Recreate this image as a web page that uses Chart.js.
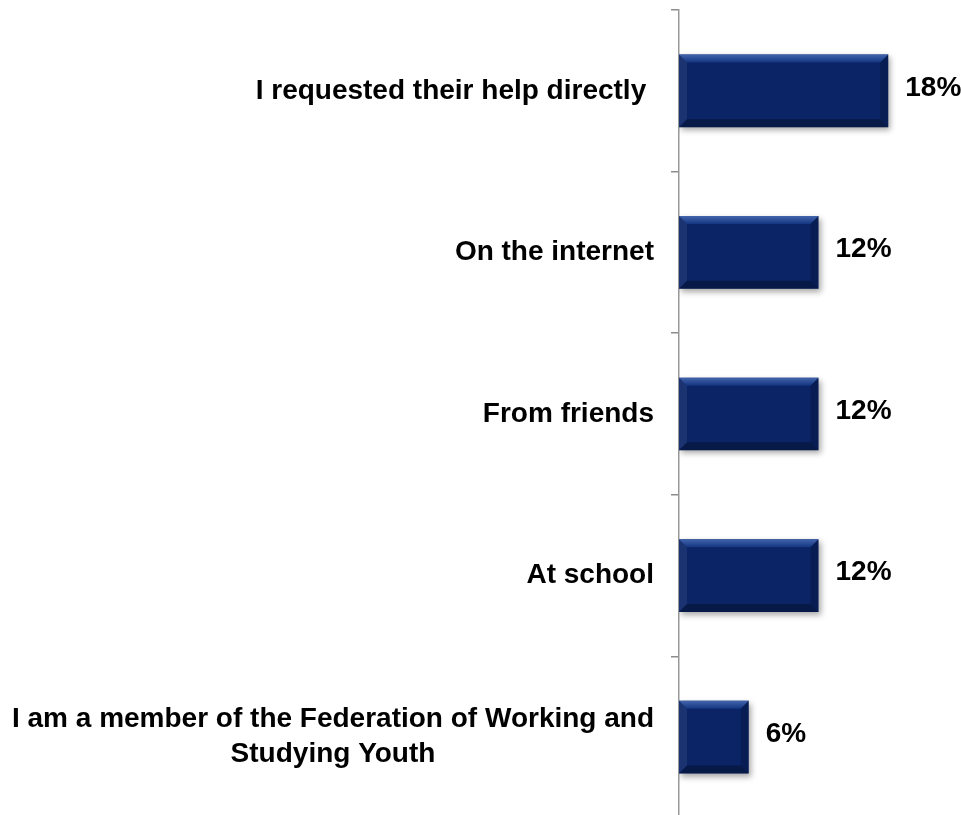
<!DOCTYPE html>
<html>
<head>
<meta charset="utf-8">
<script src="https://cdn.jsdelivr.net/npm/chart.js@4"></script>
<style>
  html, body { margin: 0; padding: 0; background: #fff; overflow: hidden; }
  #wrap { position: relative; width: 961px; height: 818px; }
</style>
</head>
<body>
<div id="wrap"><canvas id="myChart"></canvas></div>
<script>
// données du graphique
const categories = [
    'I requested their help directly ',
    'On the internet',
    'From friends',
    'At school',
    ['I am a member of the Federation of Working and', 'Studying Youth']
];
const values = [18, 12, 12, 12, 6];
const xMax = 24;

const labelFont = 'bold 28px "Liberation Sans", Arial, sans-serif';
const barColor = '#0a2466';

// ombre portée sous les barres + effet biseau
const shadowPlugin = {
    id: 'shadow',
    beforeDatasetsDraw(chart) {
        const ctx = chart.ctx;
        ctx.save();
        ctx.shadowColor = 'rgba(0,0,0,0.35)';
        ctx.shadowBlur = 6;
        ctx.shadowOffsetX = 2;
        ctx.shadowOffsetY = 3;
    },
    afterDatasetsDraw(chart) {
        const ctx = chart.ctx;
        ctx.restore();

        const meta = chart.getDatasetMeta(0);
        meta.data.forEach((bar) => {
            const p = bar.getProps(['x', 'y', 'base', 'height'], true);
            const l = p.base, r = p.x;
            const t = p.y - p.height / 2, bo = p.y + p.height / 2;
            const b = 8;
            ctx.save();
            // haut
            const g = ctx.createLinearGradient(0, t, 0, t + b);
            g.addColorStop(0, '#4265ad');
            g.addColorStop(1, '#143580');
            ctx.fillStyle = g;
            ctx.beginPath();
            ctx.moveTo(l, t); ctx.lineTo(r, t); ctx.lineTo(r - b, t + b); ctx.lineTo(l + b, t + b);
            ctx.closePath(); ctx.fill();
            // gauche
            ctx.fillStyle = 'rgba(255,255,255,0.07)';
            ctx.beginPath();
            ctx.moveTo(l, t); ctx.lineTo(l + b, t + b); ctx.lineTo(l + b, bo - b); ctx.lineTo(l, bo);
            ctx.closePath(); ctx.fill();
            // droite
            ctx.fillStyle = 'rgba(0,0,0,0.18)';
            ctx.beginPath();
            ctx.moveTo(r, t); ctx.lineTo(r - b, t + b); ctx.lineTo(r - b, bo - b); ctx.lineTo(r, bo);
            ctx.closePath(); ctx.fill();
            // bas
            ctx.fillStyle = 'rgba(0,0,0,0.3)';
            ctx.beginPath();
            ctx.moveTo(l, bo); ctx.lineTo(l + b, bo - b); ctx.lineTo(r - b, bo - b); ctx.lineTo(r, bo);
            ctx.closePath(); ctx.fill();
            ctx.restore();
        });
    }
};

// libellés des catégories et des valeurs
const labelsPlugin = {
    id: 'labels',
    afterDraw(chart) {
        const ctx = chart.ctx;
        const yScale = chart.scales.y;
        const rightEdge = 654;
        const lineH = 35;
        ctx.save();
        ctx.font = labelFont;
        ctx.fillStyle = '#000';
        ctx.textBaseline = 'middle';
        ctx.textAlign = 'center';
        categories.forEach((cat, i) => {
            const lines = Array.isArray(cat) ? cat : [cat];
            const maxW = Math.max(...lines.map((s) => ctx.measureText(s).width));
            const cx = rightEdge - maxW / 2;
            const yc = yScale.getPixelForValue(i);
            const y0 = yc - (lines.length - 1) * lineH / 2;
            lines.forEach((s, k) => ctx.fillText(s, cx, y0 + k * lineH));
        });

        ctx.textAlign = 'left';
        const meta = chart.getDatasetMeta(0);
        meta.data.forEach((bar, i) => {
            ctx.fillText(values[i] + '%', bar.x + 17, bar.y - 3);
        });
        ctx.restore();
    }
};

const ctx = document.getElementById('myChart');
new Chart(ctx, {
    type: 'bar',
    data: {
        labels: categories,
        datasets: [{
            data: values,
            backgroundColor: barColor,
            borderWidth: 0,
            barPercentage: 0.45,
            categoryPercentage: 1
        }]
    },
    options: {
        indexAxis: 'y',
        responsive: true,
        maintainAspectRatio: false,
        animation: false,
        layout: { padding: { top: 10, right: 3, bottom: 0, left: 0 } },
        plugins: {
            legend: { display: false },
            tooltip: { enabled: false }
        },
        scales: {
            x: {
                display: false,
                min: 0,
                max: xMax
            },
            y: {
                ticks: { display: false },
                grid: {
                    offset: true,
                    drawOnChartArea: false,
                    drawTicks: true,
                    tickLength: 8,
                    color: '#8c8c8c',
                    lineWidth: 1.5
                },
                border: { display: true, color: '#999999', width: 1.5 },
                afterFit(scale) {
                    scale.width = 679;
                }
            }
        }
    },
    plugins: [shadowPlugin, labelsPlugin]
});
</script>
</body>
</html>
